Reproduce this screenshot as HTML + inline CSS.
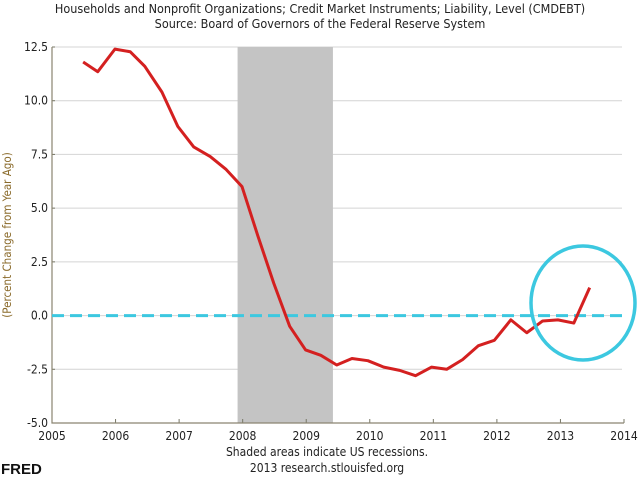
<!DOCTYPE html>
<html><head><meta charset="utf-8"><style>
body{margin:0;background:#fff;}
svg{display:block;font-family:"DejaVu Sans Condensed","Liberation Sans Narrow","Liberation Sans",sans-serif;}
</style></head><body>
<svg id="chart" width="640" height="479" viewBox="0 0 640 479" xmlns="http://www.w3.org/2000/svg">
<text x="320" y="13" text-anchor="middle" font-size="12.5" fill="#222">Households and Nonprofit Organizations; Credit Market Instruments; Liability, Level (CMDEBT)</text>
<text x="320" y="28" text-anchor="middle" font-size="12.5" fill="#222">Source: Board of Governors of the Federal Reserve System</text>
<g id="grid"></g>
<g id="rec"></g>
<g id="axes"></g>
<g id="series"></g>
<text transform="translate(11,235) rotate(-90)" text-anchor="middle" font-size="11.5" fill="#8a6a2a">(Percent Change from Year Ago)</text>
<text x="327" y="456" text-anchor="middle" font-size="12" fill="#222">Shaded areas indicate US recessions.</text>
<text x="327" y="472" text-anchor="middle" font-size="12" fill="#222">2013 research.stlouisfed.org</text>
<text x="1" y="474" font-size="15" font-weight="bold" fill="#111" font-family="Liberation Sans, sans-serif">FRED</text>
</svg>
<script>
const years=[2005.49,2005.72,2005.99,2006.23,2006.46,2006.73,2006.98,2007.23,2007.49,2007.74,2007.99,2008.24,2008.49,2008.74,2008.99,2009.23,2009.48,2009.72,2009.97,2010.22,2010.47,2010.72,2010.97,2011.21,2011.46,2011.71,2011.96,2012.22,2012.47,2012.72,2012.96,2013.21,2013.46];
const values=[11.8,11.35,12.4,12.28,11.6,10.4,8.8,7.85,7.4,6.8,6.0,3.7,1.5,-0.5,-1.6,-1.85,-2.3,-2.0,-2.1,-2.4,-2.55,-2.8,-2.4,-2.5,-2.05,-1.4,-1.15,-0.2,-0.8,-0.25,-0.2,-0.35,1.3];
const yTicks=[-5,-2.5,0,2.5,5,7.5,10,12.5];
const yTickLabels=["-5.0","-2.5","0.0","2.5","5.0","7.5","10.0","12.5"];
const xTicks=[2005,2006,2007,2008,2009,2010,2011,2012,2013,2014];
const recessions=[[2007.92,2009.42]];
const NS="http://www.w3.org/2000/svg";
const X0=52,X1=624,Y0=423,Y1=47;
const xs=v=>X0+(v-2005)/9*(X1-X0);
const ys=v=>Y0-(v+5)/17.5*(Y0-Y1);
function mk(tag,parent,attrs){const e=document.createElementNS(NS,tag);for(const k in attrs)e.setAttribute(k,attrs[k]);document.getElementById(parent).appendChild(e);return e;}
yTicks.forEach((t,i)=>{
  if(t>-5){const g=mk('line','grid',{x1:X0,x2:X1-2,y1:ys(t),y2:ys(t),stroke:'#d4d4d4','stroke-width':1});
  
  }
  const l=mk('text','axes',{x:X0-4,y:ys(t)+4,'text-anchor':'end','font-size':12,fill:'#222'});l.textContent=yTickLabels[i];
  
  
  const tk=mk('line','axes',{x1:X0,x2:X0+3,y1:ys(t),y2:ys(t),stroke:'#776'});
  
  
});
recessions.forEach(r=>{const e=mk('rect','rec',{x:xs(r[0]),y:Y1,width:xs(r[1])-xs(r[0]),height:Y0-Y1,fill:'#c4c4c4'});
  
  });
xTicks.forEach(t=>{
  const l=mk('text','axes',{x:xs(t),y:Y0+17,'text-anchor':'middle','font-size':12,fill:'#222'});l.textContent=t;
  
  
  const tk=mk('line','axes',{x1:xs(t),x2:xs(t),y1:Y0,y2:Y0-4,stroke:'#776'});
  
  
});
const ax=mk('path','axes',{d:`M${X0},${Y1} V${Y0} H${X1}`,fill:'none',stroke:'#8a8470','stroke-width':1.2});


const z=mk('line','series',{x1:X0,x2:X1,y1:ys(0),y2:ys(0),stroke:'#3cc8e0','stroke-width':3,'stroke-dasharray':'12,6'});


const p=mk('polyline','series',{points:years.map((y,i)=>xs(y)+','+ys(values[i])).join(' '),fill:'none',stroke:'#d42020','stroke-width':3,'stroke-linejoin':'round'});


const c=mk('ellipse','series',{cx:583,cy:303,rx:52,ry:57,fill:'none',stroke:'#3cc8e0','stroke-width':3.5});


</script>
</body></html>
